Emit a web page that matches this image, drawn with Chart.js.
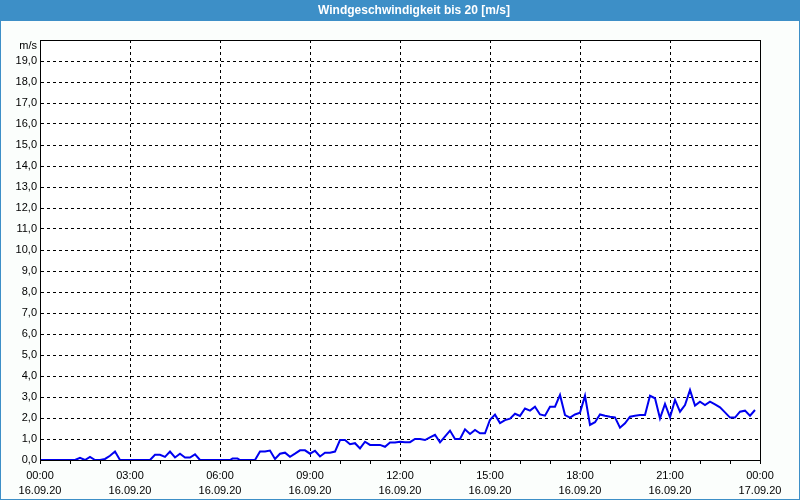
<!DOCTYPE html>
<html>
<head>
<meta charset="utf-8">
<script src="https://cdn.jsdelivr.net/npm/chart.js@4"></script>
<style>
  body { margin: 0; background: #fbfefc; }
  #wrap { width: 800px; height: 500px; }
</style>
</head>
<body>
<div id="wrap"><canvas id="wind" width="800" height="500"></canvas></div>
<script>
const chartTitle = 'Windgeschwindigkeit bis 20 [m/s]'
const unitLabel = 'm/s'

// time of each reading (16.09.20) and wind speed in m/s
const times = [
  '00:00', '01:10', '01:20', '01:30', '01:40', '01:50', '02:00', '02:10', '02:20', '02:30',
  '02:40', '03:40', '03:50', '04:00', '04:10', '04:20', '04:30', '04:40', '04:50', '05:00',
  '05:10', '05:20', '06:20', '06:25', '06:35', '06:40', '07:10', '07:20', '07:30', '07:40',
  '07:50', '08:00', '08:10', '08:20', '08:30', '08:40', '08:50', '09:00', '09:10', '09:20',
  '09:30', '09:40', '09:50', '10:00', '10:10', '10:20', '10:30', '10:40', '10:50', '11:00',
  '11:10', '11:20', '11:30', '11:40', '11:50', '12:00', '12:10', '12:20', '12:30', '12:40',
  '12:50', '13:00', '13:10', '13:20', '13:40', '13:50', '14:00', '14:10', '14:20', '14:30',
  '14:40', '14:50', '15:00', '15:10', '15:20', '15:30', '15:40', '15:50', '16:00', '16:10',
  '16:20', '16:30', '16:40', '16:50', '17:00', '17:10', '17:20', '17:30', '17:40', '17:50',
  '18:00', '18:10', '18:20', '18:30', '18:40', '18:50', '19:00', '19:10', '19:20', '19:30',
  '19:40', '19:50', '20:00', '20:10', '20:20', '20:30', '20:40', '20:50', '21:00', '21:10',
  '21:20', '21:30', '21:40', '21:50', '22:00', '22:10', '22:20', '22:30', '22:40', '22:50',
  '23:00', '23:10', '23:20', '23:30', '23:40', '23:50',
]
const windSpeed = [
  0, 0, 0.1, 0, 0.15, 0, 0, 0.05, 0.2, 0.4,
  0, 0, 0.25, 0.25, 0.15, 0.4, 0.12, 0.3, 0.12, 0.12,
  0.27, 0, 0, 0.07, 0.07, 0, 0, 0.4, 0.4, 0.45,
  0.05, 0.3, 0.35, 0.15, 0.3, 0.46, 0.46, 0.3, 0.44, 0.17,
  0.35, 0.35, 0.4, 0.95, 0.95, 0.75, 0.8, 0.55, 0.87, 0.72,
  0.72, 0.72, 0.63, 0.83, 0.83, 0.87, 0.85, 0.85, 1.0, 1.0,
  0.95, 1.08, 1.2, 0.84, 1.4, 1.0, 1.0, 1.46, 1.24, 1.43,
  1.27, 1.27, 1.92, 2.16, 1.76, 1.9, 1.97, 2.2, 2.1, 2.45,
  2.35, 2.54, 2.17, 2.11, 2.54, 2.54, 3.1, 2.14, 2.02, 2.17,
  2.25, 3.06, 1.67, 1.8, 2.17, 2.11, 2.06, 2.03, 1.54, 1.75,
  2.06, 2.11, 2.14, 2.14, 3.06, 2.94, 1.98, 2.67, 2.03, 2.86,
  2.3, 2.62, 3.33, 2.59, 2.78, 2.62, 2.78, 2.65, 2.51, 2.27,
  2.02, 2.02, 2.3, 2.35, 2.11, 2.38,
]

const startDate = '16.09.20'
const endDate = '17.09.20'

const barBlue = '#3d8fc7'
const lineBlue = '#0000f0'
const fontFamily = '"Liberation Sans", Arial, sans-serif'

function toMinutes(t) {
  const [h, m] = t.split(':')
  return Number(h) * 60 + Number(m)
}

const points = times.map((t, i) => ({ x: toMinutes(t), y: windSpeed[i] }))

// blue title bar, frame, white plot area, top/right border, unit label
const framePlugin = {
  id: 'frame',
  beforeDraw(chart) {
    const ctx = chart.ctx
    const a = chart.chartArea
    ctx.save()
    ctx.fillStyle = barBlue
    ctx.fillRect(0, 0, chart.width, chart.height)
    ctx.fillStyle = '#fbfefc'
    ctx.fillRect(1, 21, chart.width - 2, chart.height - 22)
    ctx.fillStyle = '#ffffff'
    ctx.fillRect(a.left, a.top, a.right - a.left, a.bottom - a.top)
    ctx.fillStyle = '#ffffff'
    ctx.font = 'bold 12px ' + fontFamily
    ctx.textAlign = 'center'
    ctx.textBaseline = 'middle'
    ctx.fillText(chartTitle, 414, 11)
    ctx.restore()
  },
  afterDraw(chart) {
    const ctx = chart.ctx
    const a = chart.chartArea
    ctx.save()
    ctx.strokeStyle = '#000'
    ctx.lineWidth = 1
    ctx.strokeRect(a.left + 0.5, a.top + 0.5, a.right - a.left, a.bottom - a.top)
    ctx.fillStyle = '#000'
    ctx.font = '11px ' + fontFamily
    ctx.textAlign = 'right'
    ctx.textBaseline = 'middle'
    ctx.fillText(unitLabel, a.left - 3, a.top + 6)
    ctx.restore()
  },
}

new Chart('wind', {
  type: 'line',
  data: {
    datasets: [
      {
        data: points,
        borderColor: lineBlue,
        borderWidth: 2,
        pointRadius: 0,
        tension: 0,
        fill: false,
      },
    ],
  },
  options: {
    responsive: false,
    animation: false,
    layout: { padding: { left: 0, right: 40, top: 40, bottom: 0 } },
    plugins: {
      legend: { display: false },
      tooltip: { enabled: false },
    },
    scales: {
      x: {
        type: 'linear',
        min: 0,
        max: 1440,
        afterFit(scale) { scale.height = 40 },
        ticks: {
          stepSize: 60,
          autoSkip: false,
          maxRotation: 0,
          padding: 5,
          color: '#000',
          font: { family: fontFamily, size: 11, lineHeight: 1.35 },
          callback(v) {
            if (v % 180 !== 0) return ''
            const h = String((v / 60) % 24).padStart(2, '0')
            return [h + ':00', v === 1440 ? endDate : startDate]
          },
        },
        grid: {
          color: (c) => (c.tick && c.tick.value % 180 === 0 ? '#000' : 'rgba(0,0,0,0)'),
          tickColor: '#000',
          tickLength: 4,
        },
        border: { color: '#000', dash: [3, 3] },
      },
      y: {
        min: 0,
        max: 20,
        afterFit(scale) { scale.width = 40 },
        ticks: {
          stepSize: 1,
          autoSkip: false,
          padding: 3,
          color: '#000',
          font: { family: fontFamily, size: 11 },
          callback(v) {
            if (v === 20) return ''
            return v.toFixed(1).replace('.', ',')
          },
        },
        grid: { color: '#000', drawTicks: false },
        border: { color: '#000', dash: [3, 3] },
      },
    },
  },
  plugins: [framePlugin],
})
</script>
</body>
</html>
